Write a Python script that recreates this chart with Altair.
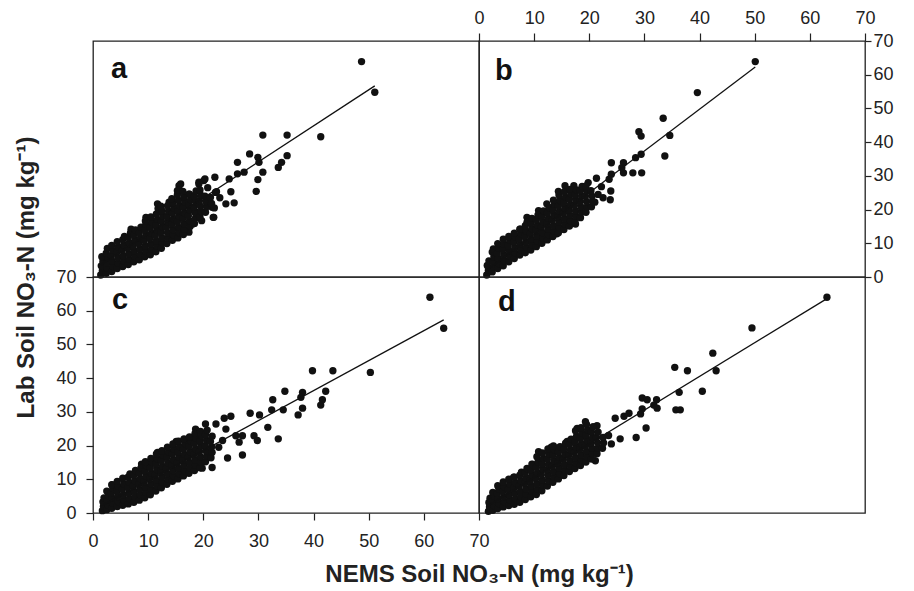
import altair as alt
import pandas as pd

FONT = "Liberation Sans"
TICKS = [0, 10, 20, 30, 40, 50, 60, 70]

# ---------------- data (NEMS, Lab) ----------------
PANEL_A = [
    (48.7, 63.9), (51.1, 54.8), (41.3, 41.6), (30.8, 42.1), (35.2, 42.1), (28.4, 36.5),
    (29.9, 35.5), (26.2, 34.0), (35.2, 36.0), (34.2, 34.0), (33.6, 32.5), (30.8, 31.1),
    (29.9, 28.9), (29.6, 25.4), (26.2, 30.6), (27.4, 31.1), (24.7, 29.1), (22.1, 29.6),
    (20.3, 29.1), (25.0, 25.3), (25.6, 22.0), (24.1, 21.7), (22.4, 25.3), (21.8, 17.7),
    (19.7, 16.7), (18.1, 15.7), (17.4, 13.3), (16.2, 13.3), (6.9, 14.2), (15.6, 27.1),
    (11.7, 21.7), (13.8, 22.2), (19.2, 28.1), (30.1, 34.0), (20.1, 28.6), (19.2, 27.6),
    (22.2, 25.1), (21.6, 20.7), (21.9, 17.7), (18.6, 19.3), (15.9, 27.6), (15.3, 25.6),
    (17.4, 24.6), (9.6, 17.7),
    (1.4, 0.6), (1.7, 1.9), (1.5, 3.3), (1.8, 4.6), (1.6, 6.0),
    (2.4, 1.1), (2.6, 2.6), (2.5, 4.1), (2.7, 5.6), (2.4, 7.1), (2.6, 8.5),
    (3.4, 1.6), (3.6, 3.1), (3.5, 4.7), (3.3, 6.3), (3.6, 7.9), (3.4, 9.4),
    (4.4, 2.5), (4.6, 4.1), (4.5, 5.7), (4.3, 7.3), (4.6, 8.9), (4.4, 10.5),
    (5.4, 3.1), (5.6, 4.7), (5.5, 6.3), (5.3, 7.9), (5.6, 9.5), (5.4, 11.1), (5.7, 12.0),
    (6.4, 3.7), (6.6, 5.3), (6.5, 6.9), (6.3, 8.5), (6.6, 10.1), (6.4, 11.7), (6.8, 13.1),
    (7.4, 4.5), (7.6, 6.1), (7.5, 7.7), (7.3, 9.3), (7.6, 10.9), (7.4, 12.5), (7.7, 14.0),
    (8.4, 5.1), (8.6, 6.7), (8.5, 8.3), (8.3, 9.9), (8.6, 11.5), (8.4, 13.1), (8.7, 14.8),
    (9.4, 6.0), (9.6, 7.6), (9.5, 9.2), (9.3, 10.8), (9.6, 12.4), (9.4, 14.0), (9.6, 15.6), (9.5, 16.6),
    (10.4, 6.6), (10.6, 8.2), (10.5, 9.8), (10.3, 11.4), (10.6, 13.0), (10.4, 14.6), (10.7, 16.2), (10.5, 17.8),
    (11.4, 7.5), (11.6, 9.1), (11.5, 10.7), (11.3, 12.3), (11.6, 13.9), (11.4, 15.5), (11.7, 17.1), (11.5, 18.7), (11.8, 20.3),
    (12.4, 8.5), (12.6, 10.1), (12.5, 11.7), (12.3, 13.3), (12.6, 14.9), (12.4, 16.5), (12.7, 18.1), (12.5, 19.7), (12.3, 21.0),
    (13.4, 9.9), (13.6, 11.5), (13.5, 13.1), (13.3, 14.7), (13.6, 16.3), (13.4, 17.9), (13.7, 19.5), (13.5, 21.1),
    (14.4, 10.9), (14.6, 12.5), (14.5, 14.1), (14.3, 15.7), (14.6, 17.3), (14.4, 18.9), (14.7, 20.5), (14.5, 22.1), (14.3, 23.2),
    (15.4, 11.6), (15.6, 13.2), (15.5, 14.8), (15.3, 16.4), (15.6, 18.0), (15.4, 19.6), (15.7, 21.2), (15.5, 22.8), (15.3, 24.4), (15.6, 25.8),
    (16.4, 12.6), (16.6, 14.2), (16.5, 15.8), (16.3, 17.4), (16.6, 19.0), (16.4, 20.6), (16.7, 22.2), (16.5, 23.8), (16.3, 25.4),
    (17.6, 15.0), (17.5, 16.6), (17.3, 18.2), (17.6, 19.8), (17.4, 21.4), (17.7, 23.0), (17.5, 24.6),
    (18.4, 15.9), (18.6, 17.5), (18.5, 19.1), (18.3, 20.7), (18.6, 22.3), (18.4, 23.9), (18.7, 25.5),
    (19.4, 17.8), (19.6, 19.4), (19.5, 21.0), (19.3, 22.6), (19.6, 24.2), (19.4, 25.8),
    (20.4, 19.2), (20.6, 20.8), (20.5, 22.4), (20.3, 24.0), (20.8, 26.5),
    (21.5, 21.8), (21.3, 23.6), (22.0, 20.5), (23.0, 23.5),
]

PANEL_B = [
    (50.1, 63.9), (39.6, 54.7), (33.4, 47.1), (29.0, 43.1), (29.4, 41.8), (34.6, 42.0),
    (33.7, 35.9), (29.4, 36.4), (28.4, 35.4), (29.5, 30.9), (27.9, 30.9), (26.2, 33.9),
    (26.2, 30.9), (25.9, 32.4), (24.0, 33.9), (24.0, 30.5), (23.6, 29.0), (23.9, 25.5),
    (23.8, 22.9), (21.3, 29.3), (19.8, 28.0), (21.0, 22.2), (17.5, 15.7), (15.6, 27.1),
    (17.2, 27.1), (12.3, 21.7), (10.8, 19.7), (8.7, 17.7), (7.5, 14.2), (11.2, 12.3), (14.1, 12.8),
    (1.4, 0.6), (1.7, 2.0), (1.5, 3.4), (1.8, 4.8),
    (2.4, 1.5), (2.6, 3.0), (2.5, 4.5), (2.7, 6.0), (2.4, 7.4), (2.6, 8.3),
    (3.4, 2.5), (3.6, 4.0), (3.5, 5.5), (3.3, 7.0), (3.6, 8.5), (3.4, 9.9),
    (4.4, 3.3), (4.6, 4.9), (4.5, 6.5), (4.3, 8.1), (4.6, 9.7), (4.4, 11.2),
    (5.4, 4.5), (5.6, 6.1), (5.5, 7.7), (5.3, 9.3), (5.6, 10.9), (5.4, 12.0),
    (6.4, 5.5), (6.6, 7.1), (6.5, 8.7), (6.3, 10.3), (6.6, 11.9), (6.4, 13.0),
    (7.4, 6.5), (7.6, 8.1), (7.5, 9.7), (7.3, 11.3), (7.6, 12.9), (7.4, 14.2),
    (8.4, 7.2), (8.6, 8.8), (8.5, 10.4), (8.3, 12.0), (8.6, 13.6), (8.4, 15.2), (8.7, 16.2),
    (9.4, 8.0), (9.6, 9.6), (9.5, 11.2), (9.3, 12.8), (9.6, 14.4), (9.4, 16.0), (9.6, 17.4),
    (10.4, 9.0), (10.6, 10.6), (10.5, 12.2), (10.3, 13.8), (10.6, 15.4), (10.4, 17.0), (10.7, 18.4),
    (11.4, 10.0), (11.6, 11.6), (11.5, 13.2), (11.3, 14.8), (11.6, 16.4), (11.4, 18.0), (11.7, 19.6),
    (12.4, 11.0), (12.6, 12.6), (12.5, 14.2), (12.3, 15.8), (12.6, 17.4), (12.4, 19.0), (12.7, 20.6),
    (13.4, 12.0), (13.6, 13.6), (13.5, 15.2), (13.3, 16.8), (13.6, 18.4), (13.4, 20.0), (13.7, 21.6), (13.5, 22.8),
    (14.4, 13.1), (14.6, 14.7), (14.5, 16.3), (14.3, 17.9), (14.6, 19.5), (14.4, 21.1), (14.7, 22.7), (14.5, 24.3), (14.4, 25.4),
    (15.4, 14.1), (15.6, 15.7), (15.5, 17.3), (15.3, 18.9), (15.6, 20.5), (15.4, 22.1), (15.7, 23.7), (15.5, 25.3),
    (16.4, 15.1), (16.6, 16.7), (16.5, 18.3), (16.3, 19.9), (16.6, 21.5), (16.4, 23.1), (16.7, 24.7), (16.5, 26.0),
    (17.4, 16.4), (17.6, 18.0), (17.5, 19.6), (17.3, 21.2), (17.6, 22.8), (17.4, 24.4), (17.7, 25.8),
    (18.4, 17.6), (18.6, 19.2), (18.5, 20.8), (18.3, 22.4), (18.6, 24.0), (18.4, 25.6), (18.7, 26.9),
    (19.4, 19.2), (19.6, 20.8), (19.5, 22.4), (19.3, 24.0), (19.6, 25.6), (19.4, 27.0),
    (20.4, 20.8), (20.6, 22.4), (20.5, 24.0), (20.3, 25.6),
    (21.6, 24.5), (22.2, 26.8), (22.5, 23.5),
]

PANEL_C = [
    (61.1, 64.0), (63.6, 54.8), (50.3, 41.7), (39.8, 42.2), (43.5, 42.2), (34.8, 36.1),
    (38.0, 35.8), (37.7, 34.3), (42.2, 36.1), (41.6, 33.6), (41.3, 32.0), (38.0, 31.1),
    (37.2, 29.1), (32.6, 33.6), (32.4, 30.6), (34.5, 30.6), (30.2, 29.1), (28.5, 29.6),
    (31.7, 25.4), (33.6, 22.0), (29.2, 22.9), (29.8, 21.5), (27.1, 17.2), (24.4, 16.3),
    (25.0, 28.7), (23.8, 28.1), (18.6, 24.9), (20.4, 26.4), (22.3, 26.4), (21.0, 17.0),
    (21.6, 13.5), (19.8, 13.3), (27.1, 22.9), (26.5, 21.0), (15.1, 21.2), (16.9, 21.5),
    (11.7, 18.0), (8.8, 14.5), (3.5, 8.3), (24.1, 24.9), (25.9, 22.9), (23.5, 21.5), (22.8, 19.5),
    (1.7, 0.7), (1.9, 2.0), (1.8, 3.3), (2.0, 4.5),
    (2.5, 1.0), (2.7, 2.4), (2.6, 3.8), (2.8, 5.2), (2.5, 6.5),
    (3.4, 1.4), (3.6, 2.9), (3.5, 4.4), (3.3, 5.9), (3.6, 7.3), (3.4, 8.4),
    (4.4, 1.9), (4.6, 3.4), (4.5, 4.9), (4.3, 6.4), (4.6, 7.9), (4.4, 9.4),
    (5.4, 2.3), (5.6, 3.9), (5.5, 5.5), (5.3, 7.1), (5.6, 8.7), (5.4, 10.3),
    (6.4, 2.7), (6.6, 4.3), (6.5, 5.9), (6.3, 7.5), (6.6, 9.1), (6.4, 10.7), (6.7, 11.6),
    (7.4, 3.2), (7.6, 4.8), (7.5, 6.4), (7.3, 8.0), (7.6, 9.6), (7.4, 11.2), (7.7, 12.6),
    (8.4, 3.8), (8.6, 5.4), (8.5, 7.0), (8.3, 8.6), (8.6, 10.2), (8.4, 11.8), (8.7, 13.4),
    (9.4, 4.5), (9.6, 6.1), (9.5, 7.7), (9.3, 9.3), (9.6, 10.9), (9.4, 12.5), (9.7, 14.1), (9.5, 15.2),
    (10.4, 5.4), (10.6, 7.0), (10.5, 8.6), (10.3, 10.2), (10.6, 11.8), (10.4, 13.4), (10.7, 15.0), (10.5, 16.2),
    (11.4, 6.5), (11.6, 8.1), (11.5, 9.7), (11.3, 11.3), (11.6, 12.9), (11.4, 14.5), (11.7, 16.1), (11.5, 17.5),
    (12.4, 7.5), (12.6, 9.1), (12.5, 10.7), (12.3, 12.3), (12.6, 13.9), (12.4, 15.5), (12.7, 17.1), (12.5, 18.5),
    (13.4, 8.5), (13.6, 10.1), (13.5, 11.7), (13.3, 13.3), (13.6, 14.9), (13.4, 16.5), (13.7, 18.1), (13.5, 19.5),
    (14.4, 9.4), (14.6, 11.0), (14.5, 12.6), (14.3, 14.2), (14.6, 15.8), (14.4, 17.4), (14.7, 19.0), (14.5, 20.5),
    (15.4, 10.1), (15.6, 11.7), (15.5, 13.3), (15.3, 14.9), (15.6, 16.5), (15.4, 18.1), (15.7, 19.7), (15.5, 21.3),
    (16.4, 11.0), (16.6, 12.6), (16.5, 14.2), (16.3, 15.8), (16.6, 17.4), (16.4, 19.0), (16.7, 20.6), (16.5, 22.0),
    (17.4, 11.8), (17.6, 13.4), (17.5, 15.0), (17.3, 16.6), (17.6, 18.2), (17.4, 19.8), (17.7, 21.4), (17.5, 22.6),
    (18.4, 12.6), (18.6, 14.2), (18.5, 15.8), (18.3, 17.4), (18.6, 19.0), (18.4, 20.6), (18.7, 22.2), (18.5, 23.6),
    (19.4, 13.4), (19.6, 15.0), (19.5, 16.6), (19.3, 18.2), (19.6, 19.8), (19.4, 21.4), (19.7, 23.0), (19.5, 24.2),
    (20.4, 15.2), (20.6, 16.8), (20.5, 18.4), (20.3, 20.0), (20.6, 21.6), (20.4, 23.2), (20.7, 24.6),
    (21.4, 16.4), (21.6, 18.0), (21.5, 19.6), (21.3, 21.2), (21.6, 22.8),
]

PANEL_D = [
    (63.1, 64.0), (49.5, 54.9), (42.4, 47.4), (35.5, 43.2), (37.8, 42.2), (43.0, 42.2),
    (40.5, 36.1), (36.3, 35.8), (35.7, 30.6), (36.5, 30.6), (29.6, 34.1), (30.5, 33.6),
    (32.2, 33.6), (32.3, 31.1), (31.7, 32.0), (29.6, 30.9), (29.3, 29.4), (27.2, 29.6),
    (26.3, 28.7), (30.3, 25.2), (24.7, 28.1), (28.5, 22.4), (25.6, 22.0), (19.3, 27.1),
    (17.8, 25.1), (21.4, 25.9), (16.0, 21.2), (13.1, 19.5), (10.8, 18.2), (21.1, 15.5),
    (20.8, 18.5), (9.6, 14.5), (6.3, 10.6), (23.5, 23.0), (24.0, 20.5),
    (1.7, 0.5), (1.9, 1.8), (1.8, 3.1), (2.0, 4.4),
    (2.5, 0.8), (2.7, 2.2), (2.6, 3.6), (2.8, 5.0), (2.5, 6.1),
    (3.4, 1.3), (3.6, 2.8), (3.5, 4.3), (3.3, 5.8), (3.6, 7.2), (3.4, 8.1),
    (4.4, 1.8), (4.6, 3.3), (4.5, 4.8), (4.3, 6.3), (4.6, 7.8), (4.4, 9.2),
    (5.4, 2.2), (5.6, 3.8), (5.5, 5.4), (5.3, 7.0), (5.6, 8.6), (5.4, 10.0),
    (6.4, 2.6), (6.6, 4.2), (6.5, 5.8), (6.3, 7.4), (6.6, 9.0), (6.4, 10.6),
    (7.4, 3.2), (7.6, 4.8), (7.5, 6.4), (7.3, 8.0), (7.6, 9.6), (7.4, 11.2), (7.7, 12.1),
    (8.4, 4.0), (8.6, 5.6), (8.5, 7.2), (8.3, 8.8), (8.6, 10.4), (8.4, 12.0), (8.7, 13.2),
    (9.4, 4.8), (9.6, 6.4), (9.5, 8.0), (9.3, 9.6), (9.6, 11.2), (9.4, 12.8), (9.7, 14.4),
    (10.4, 5.5), (10.6, 7.1), (10.5, 8.7), (10.3, 10.3), (10.6, 11.9), (10.4, 13.5), (10.7, 15.1), (10.5, 16.7),
    (11.4, 6.6), (11.6, 8.2), (11.5, 9.8), (11.3, 11.4), (11.6, 13.0), (11.4, 14.6), (11.7, 16.2), (11.5, 17.8),
    (12.4, 8.0), (12.6, 9.6), (12.5, 11.2), (12.3, 12.8), (12.6, 14.4), (12.4, 16.0), (12.7, 17.6), (12.5, 19.0),
    (13.4, 9.1), (13.6, 10.7), (13.5, 12.3), (13.3, 13.9), (13.6, 15.5), (13.4, 17.1), (13.7, 18.7), (13.5, 19.9),
    (14.4, 10.1), (14.6, 11.7), (14.5, 13.3), (14.3, 14.9), (14.6, 16.5), (14.4, 18.1), (14.7, 19.7),
    (15.4, 11.1), (15.6, 12.7), (15.5, 14.3), (15.3, 15.9), (15.6, 17.5), (15.4, 19.1), (15.7, 20.7),
    (16.4, 12.3), (16.6, 13.9), (16.5, 15.5), (16.3, 17.1), (16.6, 18.7), (16.4, 20.3), (16.7, 21.9),
    (17.4, 13.2), (17.6, 14.8), (17.5, 16.4), (17.3, 18.0), (17.6, 19.6), (17.4, 21.2), (17.7, 22.8), (17.5, 24.4),
    (18.4, 14.1), (18.6, 15.7), (18.5, 17.3), (18.3, 18.9), (18.6, 20.5), (18.4, 22.1), (18.7, 23.7), (18.5, 25.3),
    (19.4, 15.1), (19.6, 16.7), (19.5, 18.3), (19.3, 19.9), (19.6, 21.5), (19.4, 23.1), (19.7, 24.7), (19.5, 26.3),
    (20.4, 16.0), (20.6, 17.6), (20.5, 19.2), (20.3, 20.8), (20.6, 22.4), (20.4, 24.0), (20.7, 25.6),
    (21.4, 17.6), (21.6, 19.2), (21.5, 20.8), (21.3, 22.4), (21.6, 24.0),
    (22.4, 19.2), (22.6, 20.8), (22.5, 22.4),
]

# regression line end points
LINE_A = [(1.5, 3.7), (51.1, 56.7)]
LINE_B = [(1.5, 2.1), (50.1, 62.3)]
LINE_C = [(2.0, 2.5), (63.6, 57.3)]
LINE_D = [(1.5, 2.0), (63.1, 63.6)]

LETTERS = ["a", "b", "c", "d"]
X_TITLE = "NEMS Soil NO\u2083-N (mg kg\u207b\u00b9)"
Y_TITLE = "Lab Soil NO\u2083-N (mg kg\u207b\u00b9)"

W, H = 386, 236
INK = "#111111"
AXC = "#222222"


def axis_common(**kw):
    base = dict(values=TICKS, grid=False, domain=False, tickColor=AXC, tickWidth=1.2,
                labelColor=AXC, labelFont=FONT, labelFontSize=18, labelFlush=False,
                labelOverlap=False, titleFont=FONT, titleFontSize=24, titleFontWeight="bold",
                titleColor=AXC)
    base.update(kw)
    return alt.Axis(**base)


def panel(points, line, letter, lx, ly, xaxis, yaxis):
    df = pd.DataFrame(points, columns=["nems", "lab"])
    ldf = pd.DataFrame(line, columns=["nems", "lab"])
    x = alt.X("nems:Q", scale=alt.Scale(domain=[0, 70], nice=False), axis=xaxis)
    y = alt.Y("lab:Q", scale=alt.Scale(domain=[0, 70], nice=False), axis=yaxis)
    pts = alt.Chart(df).mark_circle(size=54, color=INK, opacity=1).encode(x=x, y=y)
    ln = alt.Chart(ldf).mark_line(color=INK, strokeWidth=1.3).encode(x=x, y=y)
    txt = alt.Chart(pd.DataFrame({"t": [letter]})).mark_text(
        font=FONT, fontSize=29, fontWeight="bold", color=INK, align="left", baseline="alphabetic"
    ).encode(x=alt.value(lx), y=alt.value(ly), text="t:N")
    return alt.layer(pts, ln, txt).properties(width=W, height=H)


pa = panel(PANEL_A, LINE_A, LETTERS[0], 18, 37, None, None)
pb = panel(PANEL_B, LINE_B, LETTERS[1], 16, 39,
           axis_common(orient="top", title=None, tickSize=8, labelPadding=6),
           axis_common(orient="right", title=None, tickSize=6, labelPadding=2))
pc = panel(PANEL_C, LINE_C, LETTERS[2], 19, 32,
           axis_common(orient="bottom", title=X_TITLE, titleX=W, tickSize=7,
                       labelPadding=12, titlePadding=12),
           axis_common(orient="left", title=Y_TITLE, titleY=0, tickSize=7,
                       labelPadding=10, titlePadding=17))
pd_ = panel(PANEL_D, LINE_D, LETTERS[3], 19, 34, None, None)

chart = alt.concat(pa, pb, pc, pd_, columns=2, spacing=0, bounds="flush").properties(
    padding={"left": 6, "top": 0, "right": 5, "bottom": 0},
    background="white",
).configure_view(stroke=AXC, strokeWidth=1.3)

chart.save("out.html", embed_options={"renderer": "svg", "actions": False})
